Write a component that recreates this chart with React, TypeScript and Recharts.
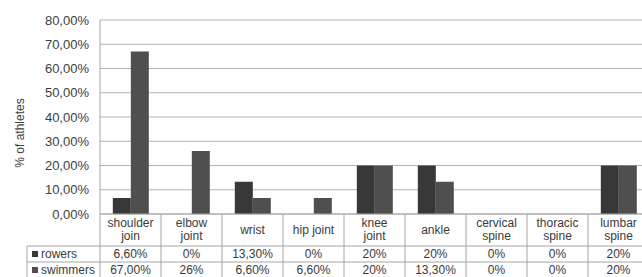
import React from 'react';
import { BarChart, Bar, XAxis, YAxis, CartesianGrid, Customized } from 'recharts';

const categories = ['shoulder join', 'elbow joint', 'wrist', 'hip joint', 'knee joint', 'ankle', 'cervical spine', 'thoracic spine', 'lumbar spine'];
const categoryLines: string[][] = [['shoulder', 'join'], ['elbow', 'joint'], ['wrist'], ['hip joint'], ['knee', 'joint'], ['ankle'], ['cervical', 'spine'], ['thoracic', 'spine'], ['lumbar', 'spine']];
const rowers = [6.6, 0, 13.3, 0, 20, 20, 0, 0, 20];
const swimmers = [67, 26, 6.6, 6.6, 20, 13.3, 0, 0, 20];
const rowersLabels = ['6,60%', '0%', '13,30%', '0%', '20%', '20%', '0%', '0%', '20%'];
const swimmersLabels = ['67,00%', '26%', '6,60%', '6,60%', '20%', '13,30%', '0%', '0%', '20%'];
const yTicks = [0, 10, 20, 30, 40, 50, 60, 70, 80];
const seriesNames = ['rowers', 'swimmers'];

const data = categories.map((c, i) => ({ name: c, rowers: rowers[i], swimmers: swimmers[i], idx: i }));

const CHART_W = 652;
const CHART_H = 277;
const Y_W = 100;
const M_RIGHT = 3;
const M_TOP = 20;
const X_H = 63;
const PLOT_W = CHART_W - Y_W - M_RIGHT;
const COL_W = PLOT_W / categories.length;
const ROW1 = 32;
const ROW2 = 16;
const LEGEND_LEFT = 27;
const LINE = '#a6a6a6';
const TEXT = '#3a3a3a';
const COLORS = ['#383838', '#4f4f4f'];
const FONT = 'Liberation Sans, Arial, sans-serif';

const TableTick = (props: any) => {
  const { x, y, payload } = props;
  const i = payload.index as number;
  const left = x - COL_W / 2;
  const right = x + COL_W / 2;
  const top = y;
  const r1 = top + ROW1;
  const r2 = r1 + ROW2;
  const bottom = CHART_H + 2;
  const lines = categoryLines[i] || [String(payload.value)];
  const textStyle = { fontFamily: FONT, fontSize: 12, fill: TEXT } as const;
  return (
    <g>
      <line x1={right} y1={top} x2={right} y2={bottom} stroke={LINE} />
      <line x1={left} y1={r1} x2={right} y2={r1} stroke={LINE} />
      <line x1={left} y1={r2} x2={right} y2={r2} stroke={LINE} />
      {lines.length === 1 ? (
        <text x={x} y={top + 20} textAnchor="middle" {...textStyle}>{lines[0]}</text>
      ) : (
        <>
          <text x={x} y={top + 13} textAnchor="middle" {...textStyle}>{lines[0]}</text>
          <text x={x} y={top + 26} textAnchor="middle" {...textStyle}>{lines[1]}</text>
        </>
      )}
      <text x={x} y={r1 + 12} textAnchor="middle" {...textStyle}>{rowersLabels[i]}</text>
      <text x={x} y={r2 + 12} textAnchor="middle" {...textStyle}>{swimmersLabels[i]}</text>
      {i === 0 && (
        <g>
          <line x1={left} y1={top} x2={left} y2={bottom} stroke={LINE} />
          <line x1={LEGEND_LEFT} y1={r1} x2={left} y2={r1} stroke={LINE} />
          <line x1={LEGEND_LEFT} y1={r2} x2={left} y2={r2} stroke={LINE} />
          <line x1={LEGEND_LEFT} y1={r1} x2={LEGEND_LEFT} y2={bottom} stroke={LINE} />
          {seriesNames.map((s, k) => {
            const rowTop = k === 0 ? r1 : r2;
            return (
              <g key={s}>
                <rect x={LEGEND_LEFT + 5} y={rowTop + 5} width={6} height={6} fill={COLORS[k]} />
                <text x={LEGEND_LEFT + 14} y={rowTop + 12} {...textStyle}>{s}</text>
              </g>
            );
          })}
        </g>
      )}
    </g>
  );
};

const YLabel = () => (
  <text
    x={20}
    y={133}
    transform="rotate(-90 20 133)"
    textAnchor="middle"
    dominantBaseline="central"
    style={{ fontFamily: FONT, fontSize: 12, fill: '#404040' }}
  >
    % of athletes
  </text>
);

export default function App() {
  return (
    <div style={{ position: 'absolute', left: 0, top: 0, width: 642, height: 277, overflow: 'hidden', background: '#fff' }}>
      <BarChart
        width={CHART_W}
        height={CHART_H}
        data={data}
        margin={{ top: M_TOP, right: M_RIGHT, bottom: 0, left: 0 }}
        barCategoryGap="21%"
        barGap={0}
      >
        <CartesianGrid vertical={false} stroke="#b4b4b4" />
        <XAxis
          dataKey="name"
          height={X_H}
          interval={0}
          tickLine={false}
          tickSize={0}
          tickMargin={0}
          axisLine={{ stroke: LINE }}
          tick={<TableTick />}
        />
        <YAxis
          width={Y_W}
          domain={[0, 80]}
          ticks={yTicks}
          interval={0}
          tickLine={false}
          tickMargin={5}
          axisLine={{ stroke: LINE }}
          tick={{ fontFamily: FONT, fontSize: 13, fill: '#404040' }}
          tickFormatter={(v: number) => v.toFixed(2).replace('.', ',') + '%'}
        />
        <Bar dataKey="rowers" fill={COLORS[0]} isAnimationActive={false} />
        <Bar dataKey="swimmers" fill={COLORS[1]} isAnimationActive={false} />
        <Customized component={YLabel} />
      </BarChart>
    </div>
  );
}
